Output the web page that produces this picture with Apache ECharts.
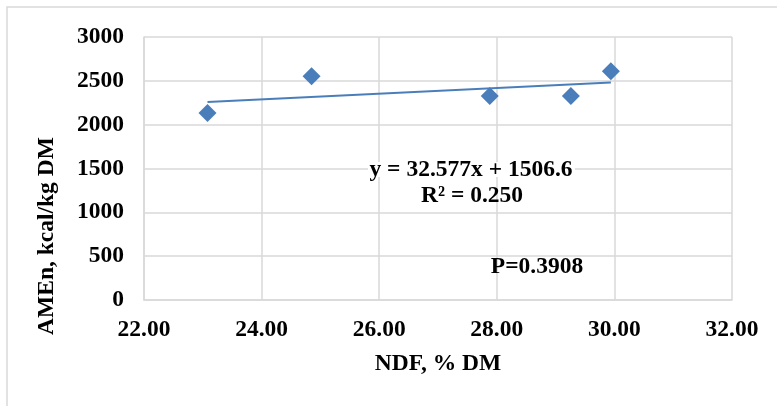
<!DOCTYPE html>
<html>
<head>
<meta charset="utf-8">
<script src="https://cdn.jsdelivr.net/npm/echarts@6/dist/echarts.min.js"></script>
<style>
  html, body { margin: 0; padding: 0; background: #fff; }
  #chart { width: 777px; height: 406px; }
</style>
</head>
<body>
<div id="chart"></div>
<script>
// NDF content (% DM) and AMEn (kcal/kg DM) of the five samples
const ndf = [23.08, 24.85, 27.88, 29.26, 29.94];
const amen = [2134, 2552, 2328, 2328, 2609];

// Linear fit reported for the data
const slope = 32.577;
const intercept = 1506.6;
const rSquared = '0.250';
const pValue = '0.3908';

// Axis ranges and steps
const xMin = 22, xMax = 32, xStep = 2;
const yMin = 0, yMax = 3000, yStep = 500;

const FONT = 'Liberation Serif';
const FS = 23.5;
const GRID = '#d9d9d9';
const BLUE = '#4a7ebb';

const points = ndf.map((x, i) => [x, amen[i]]);
const xLo = Math.min(...ndf), xHi = Math.max(...ndf);
const trend = [[xLo, slope * xLo + intercept], [xHi, slope * xHi + intercept]];

const chart = echarts.init(document.getElementById('chart'), null, { renderer: 'canvas' });

chart.setOption({
  backgroundColor: '#fff',
  animation: false,
  grid: { left: 144, right: 45, top: 37, bottom: 106 },
  xAxis: {
    type: 'value', min: xMin, max: xMax, interval: xStep,
    name: 'NDF, % DM', nameLocation: 'middle', nameGap: 52,
    nameTextStyle: { fontFamily: FONT, fontWeight: 'bold', fontSize: FS, color: '#000' },
    axisLine: { show: true, lineStyle: { color: GRID, width: 1.5 } },
    axisTick: { show: false },
    axisLabel: { margin: 18, fontFamily: FONT, fontWeight: 'bold', fontSize: FS, color: '#000',
      formatter: v => v.toFixed(2) },
    splitLine: { show: true, lineStyle: { color: GRID, width: 1.5 } }
  },
  yAxis: {
    type: 'value', min: yMin, max: yMax, interval: yStep,
    axisLine: { show: true, lineStyle: { color: GRID, width: 1.5 } },
    axisTick: { show: false },
    axisLabel: { margin: 20, fontFamily: FONT, fontWeight: 'bold', fontSize: FS, color: '#000',
      formatter: v => String(v) },
    splitLine: { show: true, lineStyle: { color: GRID, width: 1.5 } }
  },
  series: [
    {
      type: 'line', data: trend, symbol: 'none', silent: true,
      lineStyle: { color: BLUE, width: 2 }, z: 2
    },
    {
      type: 'scatter', data: points, symbol: 'diamond', symbolSize: [18, 18],
      itemStyle: { color: BLUE, opacity: 1 }, z: 3
    }
  ],
  graphic: [
    { type: 'rect', shape: { x: 7, y: 7, width: 800, height: 420 }, silent: true, z: 1,
      style: { fill: 'none', stroke: GRID, lineWidth: 1.5 } },
    { type: 'text', x: 47, y: 236, rotation: Math.PI / 2, z: 60,
      style: { text: 'AMEn, kcal/kg DM', fontFamily: FONT, fontWeight: 'bold', fontSize: FS,
        fill: '#000', textAlign: 'center', textVerticalAlign: 'middle' } },
    // white strip so the gridline does not run through the equation
    { type: 'rect', shape: { x: 368, y: 162, width: 207, height: 15 }, silent: true, z: 50,
      style: { fill: '#fff' } },
    { type: 'text', x: 471, y: 170, z: 60,
      style: { text: 'y = ' + slope + 'x + ' + intercept, fontFamily: FONT, fontWeight: 'bold', fontSize: FS,
        fill: '#000', textAlign: 'center', textVerticalAlign: 'middle' } },
    { type: 'text', x: 472, y: 196, z: 60,
      style: { text: 'R² = ' + rSquared, fontFamily: FONT, fontWeight: 'bold', fontSize: FS,
        fill: '#000', textAlign: 'center', textVerticalAlign: 'middle' } },
    { type: 'text', x: 537, y: 267, z: 60,
      style: { text: 'P=' + pValue, fontFamily: FONT, fontWeight: 'bold', fontSize: FS,
        fill: '#000', textAlign: 'center', textVerticalAlign: 'middle' } }
  ]
});
</script>
</body>
</html>
